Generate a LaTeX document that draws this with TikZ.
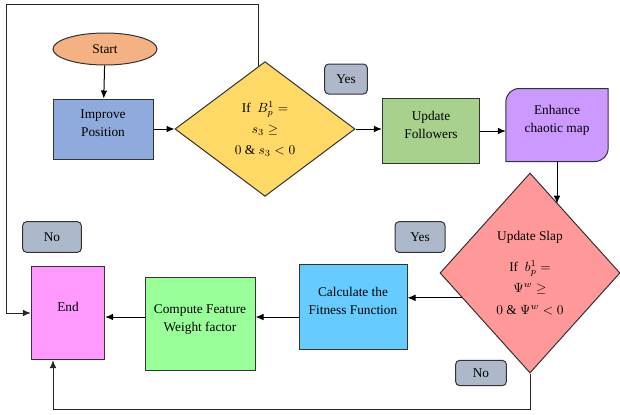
\documentclass[tikz,border=0pt]{standalone}
\usepackage{fontspec}
\setmainfont{Liberation Serif}
\usepackage{tikz}
\usetikzlibrary{shapes,arrows,positioning,calc,arrows.meta,backgrounds}

\definecolor{startcol}{HTML}{F4B183}
\definecolor{improvecol}{HTML}{8FAADC}
\definecolor{ifcol}{HTML}{FFD966}
\definecolor{followcol}{HTML}{A9D18E}
\definecolor{chaoscol}{HTML}{CC99FF}
\definecolor{slapcol}{HTML}{FF9999}
\definecolor{fitcol}{HTML}{66CCFF}
\definecolor{weightcol}{HTML}{99FF99}
\definecolor{endcol}{HTML}{FF99FF}
\definecolor{tagcol}{HTML}{ADB9CA}

\begin{document}
\begin{tikzpicture}[
        x=0.75pt, y=-0.75pt,
        every node/.style={font=\fontsize{10}{13}\selectfont},
        procbox/.style={rectangle, draw=black!80, line width=0.75pt, align=center, inner sep=2pt, text depth=9pt},
        startbox/.style={ellipse, draw=black!80, line width=0.75pt, fill=startcol, minimum width=78pt, minimum height=24pt, inner sep=0pt},
        decision/.style={diamond, draw=black!80, line width=0.75pt, align=center, inner sep=0pt, aspect=1.2},
        tagbox/.style={rectangle, draw=black!80, line width=0.75pt, fill=tagcol, rounded corners=3pt, inner sep=0pt},
        arrow/.style={-{Latex[length=6pt, width=5pt]}, line width=0.75pt, draw=black},
        loopline/.style={-{Latex[length=6pt, width=5pt]}, line width=0.75pt, draw=black!85}
        ]
        \useasboundingbox (0,0) rectangle (620,414);

        % Top row
        \node[startbox] (start) at (105,49) {Start};
        \node[procbox, fill=improvecol, minimum width=75pt, minimum height=45pt] (improve) at (103,129) {Improve\\Position};
        \node[decision, fill=ifcol, minimum width=135pt, minimum height=101pt] (ifdec) at (265,129) {If \ $B_p^1=$\\[3pt] $s_3\geq$\\[3pt] $0\ \&\ s_3<0$};
        \node[tagbox, minimum width=32pt, minimum height=22.5pt] (yestop) at (346,79) {Yes};
        \node[procbox, fill=followcol, minimum width=73pt, minimum height=49pt] (follow) at (431,131) {Update\\Followers};
        \node[procbox, draw=none, minimum width=76pt, minimum height=54pt] (chaos) at (557,125) {Enhance\\chaotic map};
        \begin{scope}[on background layer]
            \draw[fill=chaoscol, draw=black!80, line width=0.75pt] (chaos.south west) [rounded corners=10pt] -- (chaos.north west) [sharp corners] -- (chaos.north east) [rounded corners=10pt] -- (chaos.south east) [sharp corners] -- cycle;
        \end{scope}

        % Bottom row
        \node[decision, fill=slapcol, minimum width=135pt, minimum height=150pt] (slapdec) at (530,273) {Update Slap\\[10pt] If \ $b_p^1=$\\[3pt] $\Psi^w\geq$\\[3pt] $0\ \&\ \Psi^w<0$};
        \node[tagbox, minimum width=37.5pt, minimum height=23pt] (yesmid) at (420,237) {Yes};
        \node[procbox, fill=fitcol, minimum width=81pt, minimum height=64pt] (fitness) at (353,307) {Calculate the\\Fitness Function};
        \node[procbox, fill=weightcol, minimum width=82.5pt, minimum height=70pt] (weight) at (200,324) {Compute Feature\\Weight factor};
        \node[procbox, fill=endcol, minimum width=55pt, minimum height=70pt] (finish) at (68,313) {End};
        \node[tagbox, minimum width=44pt, minimum height=23pt] (noleft) at (52,237) {No};
        \node[tagbox, minimum width=38pt, minimum height=19pt] (nobottom) at (481,373) {No};

        % Loop corners
        \coordinate (looptop) at (6,4);
        \coordinate (loopbot) at (53,409);

        % Connections
        \draw[arrow] (start) -- (improve);
        \draw[arrow] (improve.east) -- (ifdec.west);
        \draw[arrow] (ifdec.east) -- (ifdec.east -| follow.west);
        \draw[arrow] (follow.east) -- (follow.east -| chaos.west);
        \draw[arrow] (chaos.south) -- (chaos.south |- slapdec.68);
        \draw[arrow] (slapdec.200) -- (slapdec.200 -| fitness.east);
        \draw[arrow] ([yshift=-7.5pt]fitness.west) -- ([yshift=-7.5pt]fitness.west -| weight.east);
        \draw[arrow] ([yshift=-7.5pt]fitness.west -| weight.west) -- ([yshift=-7.5pt]fitness.west -| finish.east);
        \draw[loopline] (ifdec.96) |- (looptop) |- (finish.west);
        \draw[loopline] (slapdec.south) |- (loopbot) -- (loopbot |- finish.south);
    \end{tikzpicture}
\end{document}
